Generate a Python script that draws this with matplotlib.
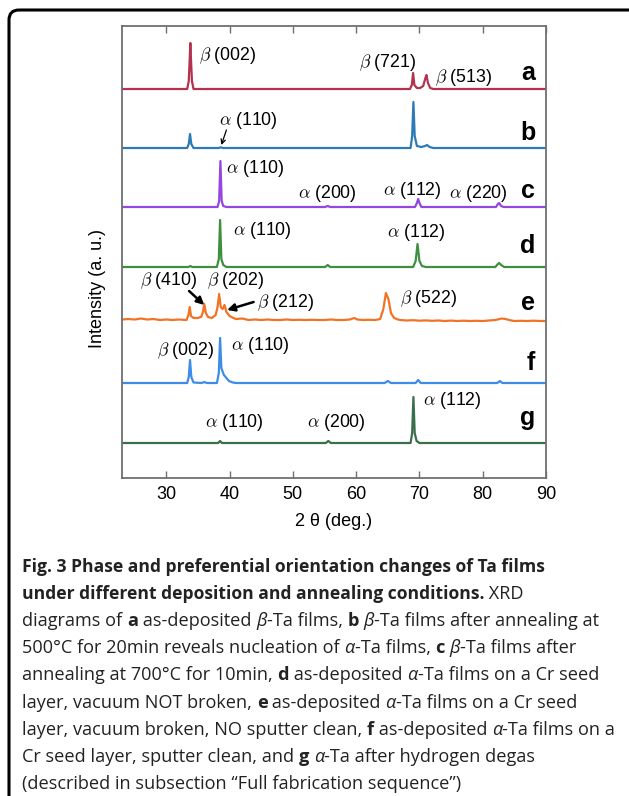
import matplotlib
matplotlib.use("Agg")
import matplotlib.pyplot as plt
from matplotlib.patches import FancyBboxPatch
from matplotlib.font_manager import FontProperties

plt.rcParams['mathtext.fontset'] = 'cm'
plt.rcParams['font.family'] = ['Liberation Sans', 'DejaVu Sans']

# ---------------- data (2θ in degrees, intensity above each trace baseline) ----------------
labels = ['a', 'b', 'c', 'd', 'e', 'f', 'g']
offsets = [389, 330, 271, 211, 157, 95, 35]
colors = ['#b3324e', '#2c7bb6', '#9346e0', '#3f8f3f', '#f07326', '#3d8de6', '#3b6e4b']

a_x = [23, 33.3, 33.55, 33.7, 33.8, 33.9, 34.05, 34.3, 68.5, 68.8, 69.0, 69.2, 69.6, 70.1,
       70.6, 70.9, 71.1, 71.35, 71.7, 72.2, 90]
a_y = [0, 0, 8, 30, 46, 30, 8, 0, 0, 4, 16, 4, 1, 1, 3, 10, 14, 6, 1, 0, 0]

b_x = [23, 33.3, 33.55, 33.75, 33.95, 34.3, 38.3, 38.6, 38.9, 68.6, 68.85, 69.05, 69.25,
       69.6, 70.3, 70.9, 71.2, 71.6, 72.2, 90]
b_y = [0, 0, 4, 14, 4, 0, 0, 0.7, 0, 0, 12, 46, 12, 2, 1, 2, 3, 1, 0, 0]

c_x = [23, 38.1, 38.35, 38.55, 38.75, 39.0, 39.5, 55.1, 55.5, 55.9, 69.3, 69.6, 69.8, 70.0,
       70.3, 82.1, 82.4, 82.6, 82.9, 83.3, 90]
c_y = [0, 0, 6, 46, 6, 1, 0, 0, 1, 0, 0, 4, 8, 4, 0, 0, 3, 4, 1, 0, 0]

d_x = [23, 33.5, 33.8, 34.1, 38.0, 38.3, 38.5, 38.7, 39.0, 39.5, 55.1, 55.5, 55.9, 69.0,
       69.4, 69.7, 70.0, 70.4, 71.0, 82.0, 82.4, 82.6, 82.9, 83.4, 90]
d_y = [0, 0, 1, 0, 0, 8, 47, 8, 2, 0, 0, 2, 0, 0, 6, 23, 6, 1, 0, 0, 3, 4, 2, 0, 0]

e_x = [23, 24, 25, 26, 27, 28, 29, 30, 31, 32, 33.2, 33.5, 33.7, 33.9, 34.3, 34.9, 35.5,
       35.8, 36.0, 36.25, 36.6, 37.2, 37.8, 38.1, 38.35, 38.6, 38.9, 39.2, 39.5, 40.0, 40.6,
       41, 42, 43, 44, 45, 46, 47, 48, 49, 50, 51, 52, 53, 54, 55, 56, 57, 58, 59, 59.7,
       60.2, 61, 62, 63, 63.8, 64.3, 64.7, 65.1, 65.5, 66.0, 66.6, 67, 68, 69, 70, 71, 72,
       73, 74, 75, 76, 77, 78, 79, 80, 81, 82, 83, 83.6, 84.5, 85, 86, 87, 88, 89, 90]
e_y = [1.5, 2, 1.5, 2.5, 1.5, 2, 1, 1.5, 1, 1.5, 1, 6, 14, 5, 3, 3, 4,
       9, 17, 8, 4, 3, 6, 14, 27, 14, 12, 16, 9, 5, 3,
       2, 2.5, 1, 1.5, 1, 1.5, 1, 1, 1.5, 1, 1.2, 1, 1.2, 1, 1, 1.5, 1, 1, 1.5, 3,
       1.5, 1, 1.2, 1, 2, 12, 28, 22, 8, 3, 1.5, 1, 0.5, 0.8, 0.3, 0.6, 0.2,
       0.5, 0, 0.4, 0, 0.3, 0, 0.2, 0, 0.5, 1, 2.5, 2, 0.5, 0, 0.2, 0, 0.3, 0, 0]

f_x = [23, 33.3, 33.55, 33.75, 33.95, 34.3, 35.6, 36.0, 36.4, 38.0, 38.3, 38.5, 38.7, 39.1,
       39.5, 39.9, 40.5, 41.0, 64.5, 65.0, 65.5, 69.4, 69.8, 70.2, 82.3, 82.7, 83.1, 90]
f_y = [0, 0, 6, 23, 6, 0.5, 0, 1, 0, 0, 10, 45, 15, 8, 5, 2, 0.5, 0, 0, 2, 0, 0, 3, 0,
       0, 2, 0, 0]

g_x = [23, 38.2, 38.5, 38.8, 55.2, 55.6, 56.0, 68.6, 68.85, 69.05, 69.25, 69.55, 70.0, 90]
g_y = [0, 0, 2, 0, 0, 2, 0, 0, 10, 46, 10, 2, 0, 0]

traces_x = [a_x, b_x, c_x, d_x, e_x, f_x, g_x]
traces_y = [a_y, b_y, c_y, d_y, e_y, f_y, g_y]

# peak labels
peak_greek = ['beta', 'beta', 'beta', 'alpha', 'alpha', 'alpha', 'alpha', 'alpha', 'alpha',
              'alpha', 'beta', 'beta', 'beta', 'beta', 'beta', 'alpha', 'alpha', 'alpha', 'alpha']
peak_hkl = ['(002)', '(721)', '(513)', '(110)', '(110)', '(200)', '(112)', '(220)', '(110)',
            '(112)', '(410)', '(202)', '(212)', '(522)', '(002)', '(110)', '(112)', '(110)', '(200)']
peak_lx = [35.1, 60.4, 72.5, 38.4, 39.5, 50.8, 64.2, 74.7, 40.6, 64.8, 25.8, 36.4, 44.3, 66.9,
           28.5, 40.3, 70.6, 36.1, 52.2]
peak_ly = [418, 411, 396, 353, 305, 280, 283, 280, 243, 241, 193, 193, 171, 175, 123, 128, 73,
           51, 51]

xticks = [30, 40, 50, 60, 70, 80, 90]

# ---------------- figure ----------------
W, H = 629, 796
fig = plt.figure(figsize=(W / 100, H / 100), dpi=100)

bg = fig.add_axes([0, 0, 1, 1])
bg.set_xlim(0, W)
bg.set_ylim(H, 0)
bg.axis('off')
bg.add_patch(FancyBboxPatch((9, 10), 630, 800, boxstyle='round,pad=0,rounding_size=10',
                            fill=False, lw=2.2, ec='black'))

ax = fig.add_axes([122 / W, 1 - 478 / H, (546 - 122) / W, (478 - 26) / H])
for xs, ys, off, c in zip(traces_x, traces_y, offsets, colors):
    ax.plot(xs, [v + off for v in ys], color=c, lw=1.6, solid_joinstyle='round')

ax.set_xlim(23, 90)
ax.set_ylim(0, 452)
ax.set_yticks([])
ax.set_xticks(xticks)
ax.set_xticklabels([str(t) for t in xticks], fontsize=13)
ax.tick_params(axis='x', direction='in', top=True, length=5, width=1, color='#707070', pad=6)
for s in ax.spines.values():
    s.set_color('#707070')
    s.set_linewidth(1.3)

letter_dy = [9, 8, 9, 14, 11, 13, 18]
for lab, off, dy in zip(labels, offsets, letter_dy):
    ax.text(88.3, off + dy, lab, fontsize=18, fontweight='bold', ha='right', va='baseline')

for g, hkl, lx, ly in zip(peak_greek, peak_hkl, peak_lx, peak_ly):
    ax.text(lx, ly, r'$\%s$ %s' % (g, hkl), fontsize=12.8, ha='left', va='baseline')

# arrows
ax.annotate('', xy=(38.7, 333), xytext=(39.5, 348),
            arrowprops=dict(arrowstyle='->', lw=0.9, color='black', mutation_scale=8,
                            shrinkA=0, shrinkB=0))
ax.annotate('', xy=(36.0, 173), xytext=(33.6, 187),
            arrowprops=dict(arrowstyle='-|>', lw=1.8, color='black', mutation_scale=11,
                            shrinkA=0, shrinkB=0))
ax.annotate('', xy=(39.6, 168), xytext=(43.8, 176),
            arrowprops=dict(arrowstyle='-|>', lw=1.8, color='black', mutation_scale=11,
                            shrinkA=0, shrinkB=0))

fig.text(97 / W, 1 - 288 / H, 'Intensity (a. u.)', rotation=90, fontsize=13,
         ha='center', va='center')
fig.text(334 / W, 1 - 521 / H, '2 θ (deg.)', fontsize=13, ha='center', va='center')

# ---------------- caption ----------------
fp_reg = FontProperties(family='Open Sans', size=13.1, weight='normal')
fp_bold = FontProperties(family='Open Sans', size=12.6, weight='bold')
fp_ital = FontProperties(family='Open Sans', size=13.1, weight='normal', style='italic')
fp_b2 = FontProperties(family='Open Sans', size=13.1, weight='bold')
fps = {'r': fp_reg, 'b': fp_bold, 'i': fp_ital, 'B': fp_b2}

caption = [
    [('b', 'Fig. 3 Phase and preferential orientation changes of Ta films')],
    [('b', 'under different deposition and annealing conditions.'), ('r', ' XRD')],
    [('r', 'diagrams of '), ('B', 'a'), ('r', ' as-deposited '), ('i', 'β'), ('r', '-Ta films, '),
     ('B', 'b'), ('r', ' '), ('i', 'β'), ('r', '-Ta films after annealing at')],
    [('r', '500°C for 20min reveals nucleation of '), ('i', 'α'), ('r', '-Ta films, '), ('B', 'c'),
     ('r', ' '), ('i', 'β'), ('r', '-Ta films after')],
    [('r', 'annealing at 700°C for 10min, '), ('B', 'd'), ('r', ' as-deposited '), ('i', 'α'),
     ('r', '-Ta films on a Cr seed')],
    [('r', 'layer, vacuum NOT broken, '), ('B', 'e'), ('r', ' as-deposited '), ('i', 'α'),
     ('r', '-Ta films on a Cr seed')],
    [('r', 'layer, vacuum broken, NO sputter clean, '), ('B', 'f'), ('r', ' as-deposited '),
     ('i', 'α'), ('r', '-Ta films on a')],
    [('r', 'Cr seed layer, sputter clean, and '), ('B', 'g'), ('r', ' '), ('i', 'α'),
     ('r', '-Ta after hydrogen degas')],
    [('r', '(described in subsection “Full fabrication sequence”)')],
]

renderer = fig.canvas.get_renderer()
y0 = 572
for i, line in enumerate(caption):
    x = 22
    y = y0 + i * 27.1
    for kind, s in line:
        t = fig.text(x / W, 1 - y / H, s, fontproperties=fps[kind], ha='left', va='baseline',
                     color='#222222')
        x += t.get_window_extent(renderer).width

fig.savefig('out.png', dpi=100)
